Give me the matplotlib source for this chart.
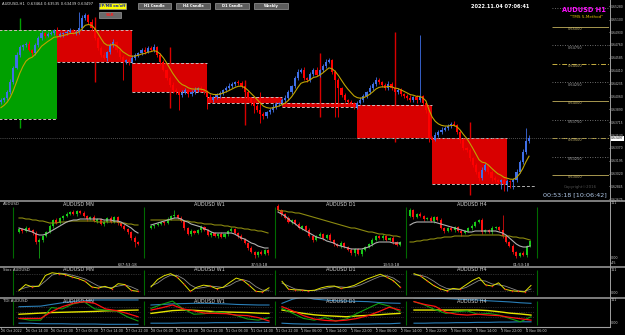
import matplotlib
matplotlib.use("Agg")
import matplotlib.pyplot as plt
import matplotlib.transforms as mtrans
from matplotlib.patches import Rectangle
from matplotlib.lines import Line2D
import numpy as np

W, H = 625, 335

# ----------------- AUDUSD H1 (26 Oct 06:00 .. 4 Nov 07:00) -----------------
h1_first_open = 0.63986
h1_close = [
    0.64013, 0.64040, 0.64121, 0.64256, 0.64446, 0.64621, 0.64729, 0.64756,
    0.64770, 0.64689, 0.64648, 0.64756, 0.64851, 0.64918, 0.64878, 0.64905,
    0.64918, 0.64959, 0.64878, 0.64905, 0.64918, 0.64932, 0.64959, 0.64918,
    0.64932, 0.64986, 0.65121, 0.65162, 0.65067, 0.64986, 0.64851, 0.64716,
    0.64621, 0.64581, 0.64662, 0.64756, 0.64797, 0.64689, 0.64594, 0.64527,
    0.64554, 0.64527, 0.64581, 0.64621, 0.64648, 0.64689, 0.64662, 0.64716,
    0.64689, 0.64729, 0.64621, 0.64527, 0.64419, 0.64310, 0.64216, 0.64148,
    0.64121, 0.64081, 0.64108, 0.64148, 0.64094, 0.64121, 0.64148, 0.64175,
    0.64148, 0.64121, 0.64054, 0.64013, 0.64054, 0.64081, 0.64108, 0.64148,
    0.64175, 0.64202, 0.64229, 0.64256, 0.64243, 0.64202, 0.64121, 0.64040,
    0.63973, 0.63932, 0.63878, 0.63824, 0.63797, 0.63851, 0.63878, 0.63919,
    0.63959, 0.63973, 0.64013, 0.64040, 0.64121, 0.64202, 0.64310, 0.64392,
    0.64419, 0.64310, 0.64283, 0.64365, 0.64419, 0.64351, 0.64419, 0.64473,
    0.64527, 0.64554, 0.64392, 0.64283, 0.64175, 0.64081, 0.64013, 0.63986,
    0.63973, 0.63919, 0.63973, 0.64013, 0.64067, 0.64121, 0.64175, 0.64229,
    0.64283, 0.64256, 0.64216, 0.64175, 0.64229, 0.64175, 0.64121, 0.64148,
    0.64094, 0.64067, 0.64040, 0.64013, 0.64054, 0.64013, 0.64067, 0.63973,
    0.63878, 0.63500, 0.63473, 0.63540, 0.63581, 0.63608, 0.63635, 0.63662,
    0.63689, 0.63676, 0.63581, 0.63473, 0.63365, 0.63338, 0.63230, 0.63135,
    0.63041, 0.62959, 0.63068, 0.63135, 0.63041, 0.62959, 0.62932, 0.62905,
    0.62932, 0.62878, 0.62919, 0.62905, 0.62932, 0.63041, 0.63176, 0.63311,
    0.63464, 0.63497,
]
# wick lengths in pips above / below the body
h1_up_wick = [
    3, 2, 3, 4, 3, 4, 3, 2,   3, 4, 2, 3, 3, 4, 2, 3,   3, 2, 4, 3, 2, 3, 3, 2,
    3, 22, 4, 3, 2, 4, 3, 2,  3, 4, 2, 3, 4, 2, 3, 3,   2, 3, 4, 3, 2, 3, 4, 3,
    3, 4, 2, 3, 3, 2, 3, 4,   3, 2, 4, 3, 2, 3, 4, 2,   3, 2, 3, 4, 2, 3, 3, 2,
    3, 4, 3, 2, 3, 3, 2, 3,   2, 3, 3, 24, 3, 2, 3, 4,  3, 2, 3, 4, 3, 2, 3, 4,
    3, 4, 2, 3, 3, 4, 2, 3,   4, 3, 2, 3, 3, 2, 3, 2,   3, 2, 3, 4, 3, 2, 4, 3,
    4, 3, 2, 3, 4, 3, 2, 3,   3, 2, 3, 4, 2, 3, 82, 2,  3, 2, 3, 4, 3, 4, 3, 3,
    3, 4, 2, 3, 3, 2, 3, 2,   3, 2, 4, 3, 2, 3, 3, 2,   2, 3, 3, 2, 3, 4, 3, 4,
    17, 4,
]
h1_dn_wick = [
    3, 2, 3, 2, 3, 2, 3, 4,   3, 2, 4, 3, 2, 3, 3, 2,   2, 3, 3, 2, 4, 3, 2, 3,
    2, 3, 3, 2, 3, 4, 3, 3,   3, 2, 4, 3, 2, 3, 3, 25,  3, 4, 2, 3, 3, 2, 3, 2,
    2, 3, 3, 4, 2, 3, 3, 4,   3, 20, 3, 2, 4, 3, 2, 3,  3, 2, 16, 3, 2, 3, 4, 3,
    2, 3, 3, 2, 3, 3, 4, 3,   3, 9, 3, 12, 4, 3, 2, 3,  3, 2, 3, 3, 2, 3, 2, 3,
    2, 3, 3, 2, 3, 2, 3, 3,   3, 2, 3, 50, 39, 3, 2, 3, 2, 3, 3, 2, 3, 3, 2, 3,
    3, 2, 3, 3, 2, 3, 4, 3,   3, 2, 3, 3, 2, 4, 3, 3,   4, 6, 3, 2, 3, 3, 2, 3,
    3, 2, 3, 4, 3, 3, 4, 3,   3, 4, 3, 2, 3, 4, 3, 3,   10, 9, 10, 8, 10, 3, 2, 3,
    3, 3,
]
ma_seed = 0.63878

# daily candles behind the H1 bars (start = first H1 bar index of the day)
d1_start = [-6, 18, 42, 66, 90, 114, 138]
d1_open = [0.63757, 0.64959, 0.64513, 0.64054, 0.63973, 0.63946, 0.63500]
d1_high = [0.65121, 0.65135, 0.64729, 0.64283, 0.64648, 0.64932, 0.63716]
d1_low = [0.63635, 0.64256, 0.63905, 0.63676, 0.63784, 0.63446, 0.62730]
d1_close = [0.64965, 0.64527, 0.64121, 0.63973, 0.63919, 0.63500, 0.62878]
today_start, today_end, today_open = 162, 171, 0.62851

levels = [0.6525, 0.6500, 0.6475, 0.6450, 0.6425, 0.6400, 0.6375, 0.6350, 0.6325, 0.6300]
level_kind = ['dot', 'solid', 'dot', 'dashdot', 'dot', 'solid', 'dot', 'dashdot', 'dot', 'solid']

price_ticks = [0.65280, 0.65100, 0.64930, 0.64760, 0.64585, 0.64410, 0.64235, 0.64060,
               0.63890, 0.63715, 0.63540, 0.63370, 0.63195, 0.63020, 0.62845, 0.62675]
bid = 0.63497

time_labels = ["26 Oct 2022", "26 Oct 14:00", "26 Oct 22:00", "27 Oct 06:00", "27 Oct 14:00",
               "27 Oct 22:00", "28 Oct 06:00", "28 Oct 14:00", "28 Oct 22:00", "31 Oct 06:00",
               "31 Oct 14:00", "31 Oct 22:00", "1 Nov 06:00", "1 Nov 14:00", "1 Nov 22:00",
               "2 Nov 06:00", "2 Nov 14:00", "2 Nov 22:00", "3 Nov 06:00", "3 Nov 14:00",
               "3 Nov 22:00", "4 Nov 06:00"]
time_label_bars = list(range(0, 170, 8))

# ----------------- multi timeframe mini charts -----------------
mini_names = ["AUDUSD MN", "AUDUSD W1", "AUDUSD D1", "AUDUSD H4"]
mini_timer = ["637:53:18", "37:53:18", "13:53:18", "01:53:18"]
mini_open = [38, 42, 64, 54]
mini_close = [
    [41, 39, 42, 40, 37, 28, 30, 34, 38, 44, 50, 47, 52, 54, 56, 58, 56, 59,
     57, 54, 51, 53, 49, 51, 46, 48, 52, 48, 53, 47, 44, 41, 38, 32, 28, 26],
    [44, 45, 46, 48, 47, 51, 54, 55, 52, 49, 42, 36, 39, 37, 40, 43, 40, 35,
     37, 34, 36, 33, 36, 39, 41, 37, 34, 31, 27, 22, 18, 15, 18, 16, 20, 17],
    [60, 56, 52, 48, 50, 46, 42, 44, 40, 34, 30, 34, 36, 32, 35, 30, 26, 24,
     27, 23, 20, 17, 21, 16, 20, 23, 26, 30, 34, 32, 34, 30, 32, 28, 25, 28],
    [60, 53, 56, 54, 51, 52, 49, 53, 50, 42, 39, 42, 40, 43, 39, 37, 39, 42,
     44, 48, 50, 38, 40, 38, 42, 43, 40, 34, 28, 24, 18, 14, 17, 15, 24, 29],
]
mini_up = [
    [1, 1, 2, 1, 1, 2, 2, 1, 1, 2, 1, 2, 1, 1, 2, 1, 2, 1, 1, 2, 1, 1, 2, 1, 1, 2, 1, 2, 1, 1, 1, 2, 1, 1, 2, 1],
    [1, 1, 2, 1, 1, 2, 1, 5, 1, 2, 1, 1, 2, 1, 1, 2, 1, 1, 2, 1, 1, 2, 1, 1, 2, 1, 1, 2, 1, 1, 2, 1, 1, 2, 1, 1],
    [2, 1, 1, 2, 1, 1, 2, 1, 1, 2, 1, 1, 2, 1, 1, 2, 1, 1, 2, 1, 1, 2, 1, 1, 2, 1, 1, 2, 1, 1, 2, 1, 1, 2, 1, 1],
    [2, 1, 1, 2, 1, 1, 2, 1, 1, 2, 1, 1, 2, 1, 1, 2, 1, 1, 2, 1, 1, 2, 1, 1, 2, 1, 1, 15, 1, 1, 2, 1, 1, 2, 1, 1],
]
mini_dn = [
    [1, 2, 1, 1, 2, 2, 16, 2, 1, 1, 2, 1, 1, 2, 1, 1, 1, 2, 1, 1, 2, 1, 1, 2, 1, 2, 1, 1, 1, 2, 1, 1, 2, 2, 5, 1],
    [1, 2, 1, 1, 2, 1, 1, 2, 1, 1, 2, 1, 2, 1, 1, 2, 1, 1, 2, 1, 2, 1, 1, 2, 1, 1, 2, 1, 1, 2, 1, 3, 2, 1, 1, 2],
    [1, 2, 1, 1, 2, 1, 1, 2, 1, 1, 2, 1, 1, 2, 1, 1, 2, 1, 2, 1, 1, 2, 3, 1, 2, 1, 1, 2, 1, 1, 2, 1, 1, 2, 1, 1],
    [1, 2, 1, 1, 2, 1, 1, 2, 1, 1, 2, 1, 1, 2, 1, 3, 1, 1, 2, 1, 1, 2, 1, 1, 2, 1, 1, 2, 1, 1, 2, 2, 1, 1, 2, 1],
]
mini_slow_ma = [
    [52, 52, 51, 51, 50, 50, 49, 49, 48, 47, 47, 47, 48, 48, 48, 49, 49, 49,
     49, 49, 49, 49, 49, 48, 48, 48, 48, 48, 48, 48, 47, 47, 46, 46, 45, 45],
    [50, 50, 50, 50, 50, 50, 50, 50, 50, 50, 49, 49, 48, 48, 47, 47, 46, 46,
     46, 45, 45, 45, 44, 44, 43, 43, 42, 42, 41, 41, 40, 40, 39, 39, 38, 37],
    [60, 59, 59, 58, 58, 57, 57, 56, 55, 54, 53, 52, 51, 50, 49, 48, 47, 46,
     45, 44, 43, 42, 42, 41, 40, 39, 38, 38, 37, 36, 36, 35, 35, 34, 34, 33],
    [28, 28, 29, 29, 30, 30, 31, 31, 32, 32, 33, 33, 33, 34, 34, 34, 34, 34,
     35, 35, 35, 35, 35, 35, 35, 35, 35, 34, 34, 34, 33, 33, 32, 32, 31, 30],
]
mini_fast_ma = [
    [42, 41, 40, 39, 38, 36, 35, 35, 36, 38, 40, 42, 44, 46, 48, 49, 50, 50,
     51, 51, 51, 51, 51, 51, 51, 50, 50, 50, 49, 49, 48, 46, 44, 42, 39, 37],
    [45, 46, 47, 48, 49, 50, 51, 52, 52, 51, 49, 48, 46, 45, 44, 43, 41, 40,
     38, 37, 37, 37, 37, 37, 37, 36, 34, 32, 31, 29, 27, 26, 24, 23, 22, 22],
    [58, 56, 54, 51, 48, 46, 43, 41, 39, 37, 35, 33, 32, 31, 29, 28, 27, 25,
     24, 23, 22, 21, 21, 21, 21, 22, 23, 25, 27, 28, 28, 28, 28, 27, 27, 27],
    [45, 47, 48, 48, 48, 48, 48, 48, 47, 46, 45, 44, 43, 42, 41, 40, 39, 38,
     38, 39, 39, 39, 39, 39, 39, 39, 38, 37, 35, 32, 29, 26, 24, 23, 23, 24],
]
mini_span = [(19, 138), (151, 268), (278, 400), (410, 530)]
mini_sep = [13, 144, 275, 406, 537]

stoch_k = [
    [23, 43, 35, 38, 74, 83, 80, 77, 69, 63, 54, 35, 31, 37, 29, 46, 43, 23, 20],
    [35, 60, 73, 80, 68, 45, 20, 34, 41, 38, 29, 34, 50, 65, 58, 40, 20, 18, 32],
    [54, 27, 25, 24, 22, 24, 32, 37, 38, 30, 34, 40, 51, 62, 70, 78, 68, 56, 35],
    [80, 72, 56, 40, 29, 22, 30, 27, 42, 57, 67, 42, 38, 49, 27, 22, 20, 18, 40],
]
stoch_d = [
    [25, 33, 38, 37, 55, 75, 82, 80, 75, 69, 62, 50, 38, 34, 33, 38, 42, 35, 25],
    [38, 48, 64, 75, 74, 62, 42, 30, 33, 38, 36, 33, 40, 53, 60, 53, 36, 24, 24],
    [48, 38, 28, 25, 23, 23, 27, 32, 36, 35, 33, 35, 42, 52, 62, 71, 73, 65, 50],
    [76, 75, 68, 55, 40, 30, 27, 27, 33, 45, 57, 55, 45, 42, 38, 30, 22, 20, 28],
]

tdi_upper = [
    [69, 70, 71, 77, 83, 88, 90, 93, 93, 93, 93, 93],
    [75, 77, 79, 80, 81, 81, 80, 79, 77, 76, 75, 75],
    [81, 96, 104, 96, 93, 90, 89, 88, 87, 84, 82, 81],
    [101, 100, 99, 98, 96, 94, 93, 90, 88, 86, 83, 81],
]
tdi_lower = [
    [10, 10, 8, 8, 8, 7, 7, 7, 6, 6, 6, 6],
    [10, 10, 10, 11, 11, 11, 12, 12, 12, 13, 13, 13],
    [10, 8, 7, 7, 6, 6, 6, 7, 7, 8, 8, 10],
    [10, 10, 11, 11, 12, 12, 13, 13, 14, 14, 15, 15],
]
tdi_mid = [
    [42, 44, 46, 48, 49, 50, 51, 52, 54, 55, 56, 57],
    [45, 50, 55, 57, 56, 54, 51, 50, 49, 48, 46, 45],
    [57, 51, 45, 40, 37, 35, 33, 36, 38, 40, 43, 45],
    [57, 57, 57, 57, 57, 57, 57, 55, 51, 46, 43, 39],
]
tdi_signal = [
    [27, 27, 27, 51, 69, 81, 87, 81, 61, 55, 45, 33],
    [57, 65, 75, 61, 54, 46, 45, 44, 39, 37, 30, 18],
    [69, 54, 37, 25, 20, 18, 21, 27, 37, 51, 67, 57],
    [87, 77, 70, 49, 42, 39, 42, 39, 37, 31, 26, 21],
]
tdi_price = [
    [27, 21, 21, 66, 61, 79, 87, 61, 57, 54, 33, 18],
    [63, 77, 89, 61, 42, 44, 51, 46, 37, 25, 21, 30],
    [63, 45, 27, 21, 30, 18, 25, 45, 63, 81, 71, 51],
    [87, 75, 58, 45, 51, 54, 42, 45, 39, 27, 15, 33],
]
ind_span = [(19, 138), (151, 269), (282, 400), (414, 531)]

# ----------------- figure -----------------
fig = plt.figure(figsize=(W / 100, H / 100), dpi=100, facecolor='black')


def box(x0, y0, x1, y1):
    return [x0 / W, 1 - y1 / H, (x1 - x0) / W, (y1 - y0) / H]


def ptext(x, y, s, **kw):
    fig.text(x / W, 1 - y / H, s, **kw)


def bare(a):
    a.set_facecolor('black')
    a.set_xticks([])
    a.set_yticks([])
    for sp in a.spines.values():
        sp.set_visible(False)


# ---- main H1 chart ----
ax = fig.add_axes(box(0, 0, 609, 200))
bare(ax)
ax.set_xlim(-0.3, 194.6)
ax.set_ylim(0.626625, 0.653645)

ds = np.array(d1_start)
do, dc = np.array(d1_open), np.array(d1_close)
dcol = np.where(dc >= do, '#00a000', '#d80000')
ax.bar(ds, np.abs(dc - do), width=24, bottom=np.minimum(do, dc), align='edge',
       color=dcol, linewidth=0, zorder=1)
ax.vlines(ds + 12, d1_low, d1_high, colors=dcol, lw=1.0, zorder=1.2)
ax.hlines(do, ds, ds + 24, colors='#d0b8b8', linestyles=(0, (3, 2)), lw=0.7, zorder=2)
ax.hlines(dc, ds, ds + 24, colors='#d0b8b8', linestyles=(0, (3, 2)), lw=0.7, zorder=2)
ax.hlines(today_open, today_start, today_end, colors='#b0b0b0',
          linestyles=(0, (3, 2)), lw=0.7, zorder=2)

for lv, kind in zip(levels, level_kind):
    if kind == 'solid':
        ax.hlines(lv, 176.4, 194.6, colors='#a89850', lw=0.7, zorder=2)
    elif kind == 'dashdot':
        ax.hlines(lv, 176.4, 194.6, colors='#c8b040', linestyles=(0, (5, 2, 1, 2)), lw=0.7, zorder=2)
    else:
        ax.hlines(lv, 176.4, 194.6, colors='#909090', linestyles=(0, (1, 2)), lw=0.6, zorder=2)
for lv, kind in zip(levels[1:], level_kind[1:]):
    ax.text(183.6, lv - 0.00004, f"{lv:.5f}", fontsize=2.5, ha='center', va='top',
            color='#c8b870' if kind != 'dot' else '#a8a8a8', zorder=3)

ax.axhline(bid, color='#6a6a6a', ls=(0, (1, 1.5)), lw=0.6, zorder=2)

cl = np.array(h1_close)
op = np.array([h1_first_open] + h1_close[:-1])
xi = np.arange(len(cl))
hi = np.maximum(op, cl) + np.array(h1_up_wick) * 0.0001
lo = np.minimum(op, cl) - np.array(h1_dn_wick) * 0.0001
ccol = np.where(cl >= op, '#3f6fe6', '#ff0000')
ax.vlines(xi, lo, hi, colors=ccol, lw=0.6, zorder=3)
ax.bar(xi, np.maximum(np.abs(cl - op), 0.00004), width=0.68, bottom=np.minimum(op, cl),
       color=ccol, linewidth=0, zorder=4)

ma = [ma_seed]
for c in h1_close:
    ma.append(ma[-1] + 0.24 * (c - ma[-1]))
ax.plot(xi, ma[1:], color='#c0a400', lw=0.8, zorder=5)

ax.yaxis.tick_right()
ax.set_yticks(price_ticks)
ax.set_yticklabels([f"{p:.5f}" for p in price_ticks])
ax.tick_params(axis='y', labelsize=2.2, colors='#c8c8c8', length=1.0, width=0.5, pad=0.6)
ax.annotate(f"{bid:.5f}", xy=(1.0, bid), xycoords=ax.get_yaxis_transform(),
            xytext=(1.3, 0), textcoords='offset points', fontsize=2.2, color='black',
            va='center', ha='left',
            bbox=dict(boxstyle='square,pad=0.12', fc='white', ec='none'), annotation_clip=False)

# ---- lower panels ----
ax2 = fig.add_axes(box(0, 201, 609, 266))
bare(ax2)
ax2.set_xlim(0, 609)
ax2.set_ylim(4, 69)
for k in range(4):
    x0, x1 = mini_span[k]
    cls = np.array(mini_close[k], dtype=float)
    ops = np.array([mini_open[k]] + mini_close[k][:-1], dtype=float)
    xs = np.linspace(x0, x1, len(cls))
    col = np.where(cls >= ops, '#18c818', '#ff1010')
    hh = np.maximum(ops, cls) + np.array(mini_up[k])
    ll = np.minimum(ops, cls) - np.array(mini_dn[k])
    ax2.vlines(xs, ll, hh, colors=col, lw=0.5, zorder=3)
    ax2.bar(xs, np.maximum(np.abs(cls - ops), 0.6), width=2.1, bottom=np.minimum(ops, cls),
            color=col, linewidth=0, zorder=4)
    ax2.plot(xs, mini_slow_ma[k], color='#8c8a10', lw=0.8, zorder=5)
    ax2.plot(xs, mini_fast_ma[k], color='#b0b0b0', lw=0.8, zorder=5)
    ax2.text((mini_sep[k] + mini_sep[k + 1]) / 2, 65, mini_names[k], fontsize=3.6,
             color='#d0d0d0', ha='center', va='center')
    ax2.text(x1, 5.2, mini_timer[k], fontsize=2.8, color='#d0d0d0', ha='right', va='center')
ax2.vlines(mini_sep, 12, 63, colors='#006a00', lw=0.8)
ax2.text(3, 66, "AUDUSD", fontsize=2.8, color='#d0d0d0', ha='left', va='center')

ax3 = fig.add_axes(box(0, 267, 609, 297))
bare(ax3)
ax3.set_xlim(0, 609)
ax3.set_ylim(0.8, 102.6)
for k in range(4):
    x0, x1 = ind_span[k]
    kk = np.array(stoch_k[k])
    xs = np.linspace(x0, x1, len(kk))
    ax3.hlines([80, 20], x0 - 3, x1 + 3, colors='#5a5a5a', linestyles=(0, (1, 1.5)), lw=0.5)
    ax3.plot(xs, stoch_d[k], color='#8a8a8a', lw=0.6, zorder=3)
    ax3.plot(xs, kk, color='#e2e200', lw=0.7, zorder=4)
    fall = np.r_[False, kk[1:] < kk[:-1]]
    ax3.plot(xs[fall], kk[fall], 's', color='#ff2020', ms=1.0, mew=0, zorder=5)
    ax3.text((mini_sep[k] + mini_sep[k + 1]) / 2, 93, mini_names[k], fontsize=3.6,
             color='#d0d0d0', ha='center', va='center')
ax3.vlines(mini_sep, 8, 92, colors='#006a00', lw=0.8)
ax3.text(3, 93, "Stoc AUDUSD", fontsize=2.8, color='#d0d0d0', ha='left', va='center')

ax4 = fig.add_axes(box(0, 298, 609, 326))
bare(ax4)
ax4.set_xlim(0, 609)
ax4.set_ylim(0, 100)
for k in range(4):
    x0, x1 = ind_span[k]
    xs = np.linspace(x0, x1, len(tdi_mid[k]))
    ax4.hlines([68, 50, 32], x0 - 3, x1 + 3, colors='#4c4c4c', linestyles=(0, (1, 1.5)), lw=0.5)
    ax4.plot(xs, tdi_upper[k], color='#2a7fb8', lw=0.8, zorder=3)
    ax4.plot(xs, tdi_lower[k], color='#2a7fb8', lw=0.8, zorder=3)
    ax4.plot(xs, tdi_mid[k], color='#e6e600', lw=1.0, zorder=3)
    ax4.plot(xs, tdi_price[k], color='#10a010', lw=0.8, zorder=4)
    ax4.plot(xs, tdi_signal[k], color='#ff1010', lw=0.9, zorder=5)
    ax4.text((mini_sep[k] + mini_sep[k + 1]) / 2, 88, mini_names[k], fontsize=3.6,
             color='#d0d0d0', ha='center', va='center')
ax4.vlines(mini_sep, 3, 90, colors='#006a00', lw=0.8)
ax4.text(3, 88, "TDI AUDUSD", fontsize=2.8, color='#d0d0d0', ha='left', va='center')

# separators and price scale border
for yy in (200.5, 266.5, 297.5):
    fig.add_artist(Line2D([0, 1], [1 - yy / H] * 2, transform=fig.transFigure,
                          color='#a0a0a0', lw=1.1))
fig.add_artist(Line2D([0, 609.5 / W], [1 - 326.5 / H] * 2, transform=fig.transFigure,
                      color='#a0a0a0', lw=0.8))
fig.add_artist(Line2D([609.5 / W] * 2, [1 - 326.5 / H, 1], transform=fig.transFigure,
                      color='#a0a0a0', lw=0.7))

for s, yy in [("111", 203), ("0.00", 258), ("-45", 263), ("111", 270), ("0.00", 293),
              ("111", 300), ("0.00", 323)]:
    ptext(611, yy, s, fontsize=2.4, color='#c8c8c8', va='center', ha='left')

# time axis
tx = mtrans.blended_transform_factory(ax.transData, fig.transFigure)
for b, s in zip(time_label_bars, time_labels):
    fig.text(b, 1 - 330.5 / H, s, transform=tx, fontsize=2.4, color='#c8c8c8',
             ha='left', va='center')
    fig.add_artist(Line2D([b, b], [1 - 326.5 / H, 1 - 328.5 / H], transform=tx,
                          color='#a0a0a0', lw=0.5))

# ---- overlay texts and buttons ----
ptext(2, 4, "AUDUSD,H1  0.63464 0.63535 0.63439 0.63497", fontsize=2.7,
      color='#e0e0e0', va='center', ha='left')

buttons = [(99, 3, 126, 9, "EP/MB on/off", '#ffff00', '#1a2aa0'),
           (99, 12, 121, 18, "S&R", '#6a6a6a', '#ff2020'),
           (138, 3, 171, 9, "H1 Candle", '#5c5c5c', 'white'),
           (176, 3, 210, 9, "H4 Candle", '#5c5c5c', 'white'),
           (215, 3, 249, 9, "D1 Candle", '#5c5c5c', 'white'),
           (254, 3, 288, 9, "Weekly", '#5c5c5c', 'white')]
for x0, y0, x1, y1, s, fc, tc in buttons:
    fig.add_artist(Rectangle((x0 / W, 1 - y1 / H), (x1 - x0) / W, (y1 - y0) / H,
                             transform=fig.transFigure, fc=fc, ec='#9a9a9a', lw=0.5))
    ptext((x0 + x1) / 2, (y0 + y1) / 2, s, fontsize=2.6, color=tc, weight='bold',
          ha='center', va='center')

ptext(500, 6, "2022.11.04 07:06:41", fontsize=3.6, color='white', weight='bold',
      ha='center', va='center')
ptext(584, 10, "AUDUSD H1", fontsize=4.8, color='#ff10ff', weight='bold',
      ha='center', va='center')
ptext(587, 17.5, '"TMS 5-Method"', fontsize=3.0, color='#e0c000', ha='center', va='center')
ptext(580, 187, "Copyright©2016", fontsize=2.8, color='#505050', ha='center', va='center')
ptext(575, 195, "00:53:18 [10:06:42]", fontsize=4.6, color='#b0c8e8', ha='center', va='center')

fig.savefig("out.png", dpi=100, facecolor='black')
